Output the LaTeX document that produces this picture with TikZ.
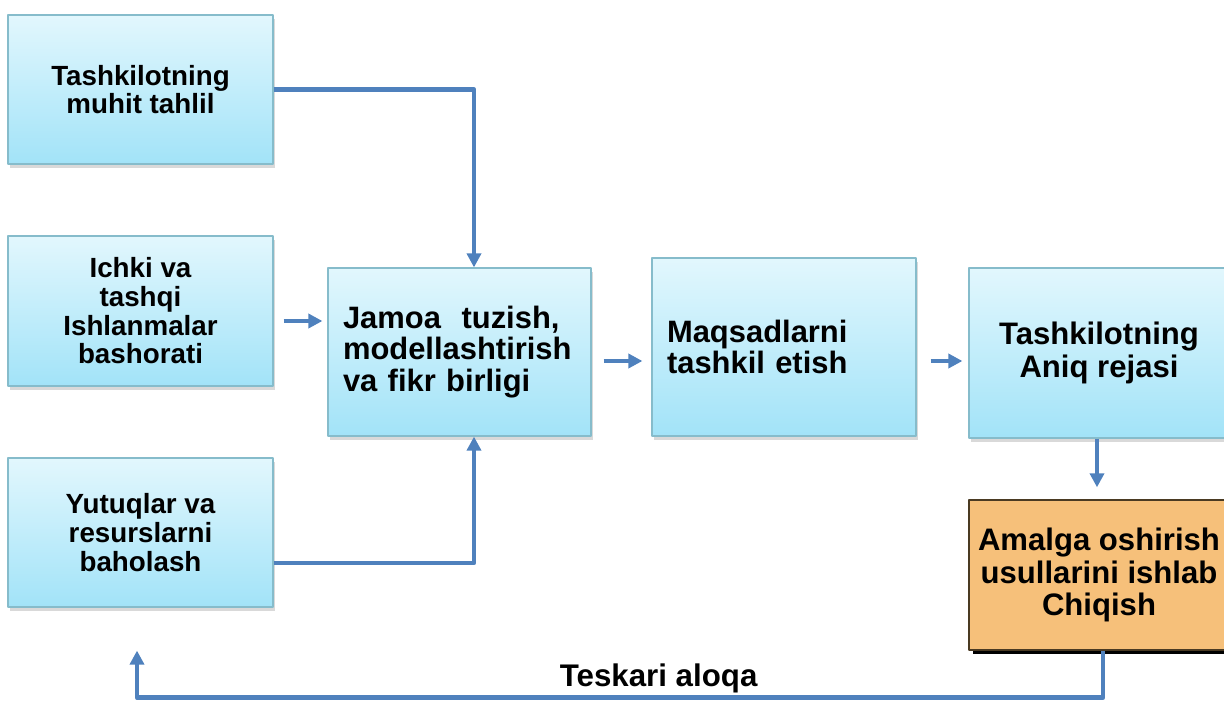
\documentclass[tikz,border=0pt]{standalone}
\usepackage{fontspec}
\setmainfont{Liberation Sans}
\usetikzlibrary{arrows.meta,shadows}

\definecolor{boxtop}{HTML}{E2F7FD}
\definecolor{boxbot}{HTML}{A2E3F8}
\definecolor{boxline}{HTML}{86BCCB}
\definecolor{arrowblue}{HTML}{4F81BD}
\definecolor{orangefill}{HTML}{F6C07A}
\definecolor{orangeline}{HTML}{4A3A22}

\begin{document}
\begin{tikzpicture}[
  x=0.02cm,
  y=-0.02cm,
  line join=round,
  bluebox/.style={
    draw=boxline,
    line width=0.7pt,
    top color=boxtop,
    bottom color=boxbot,
    drop shadow={shadow xshift=1pt,shadow yshift=-2pt,opacity=0.3},
    align=center,
    font=\bfseries\fontsize{15.8}{16.3}\selectfont
  },
  leftbox/.style={
    bluebox,
    align=left,
    inner xsep=0.3cm,
    font=\bfseries\fontsize{17.6}{17.8}\selectfont
  },
  bigbox/.style={
    bluebox,
    font=\bfseries\fontsize{17.7}{18.3}\selectfont
  },
  orangebox/.style={
    draw=orangeline,
    line width=0.8pt,
    fill=orangefill,
    drop shadow={shadow xshift=2.5pt,shadow yshift=-2.5pt,fill=black,opacity=1},
    align=center,
    font=\bfseries\fontsize{17.7}{18.5}\selectfont
  },
  arr/.style={
    draw=arrowblue,
    line width=2.7pt,
    -{Triangle[length=8pt,width=8pt]}
  }
]
  \useasboundingbox (0,0) rectangle (1224,700);

  % Левая колонка
  \node[bluebox,minimum width=5.3cm,minimum height=2.98cm]
    (muhit) at (140.5,89.5) {Tashkilotning\\muhit tahlil};
  \node[bluebox,minimum width=5.3cm,minimum height=3.0cm]
    (bashorat) at (140.5,311) {Ichki va\\tashqi\\Ishlanmalar\\bashorati};
  \node[bluebox,minimum width=5.3cm,minimum height=2.98cm]
    (baholash) at (140.5,532.5) {Yutuqlar va\\resurslarni\\baholash};

  % Средний ряд
  \node[leftbox,minimum width=5.26cm,minimum height=3.36cm,text width=4.66cm]
    (jamoa) at (459.5,352) {Jamoa\ \ tuzish,\\modellashtirish\\va fikr birligi};
  \node[leftbox,minimum width=5.28cm,minimum height=3.56cm,text width=4.68cm]
    (maqsad) at (784,347) {Maqsadlarni\\tashkil etish};

  % Правая колонка
  \node[bigbox,minimum width=5.2cm,minimum height=3.4cm]
    (reja) at (1099,353) {Tashkilotning\\Aniq rejasi};
  \node[orangebox,minimum width=5.2cm,minimum height=3.0cm]
    (amalga) at (1099,575) {Amalga oshirish\\usullarini ishlab\\Chiqish};

  % Входы в среднюю рамку
  \draw[arr] (muhit.east) -| ([xshift=0.29cm]jamoa.north);
  \draw[arr,shorten <=0.2cm,shorten >=0.1cm]
    ([yshift=-0.2cm]bashorat.east) -- ([yshift=-0.2cm]bashorat.east -| jamoa.west);
  \draw[arr] ([yshift=-0.61cm]baholash.east) -| ([xshift=0.29cm]jamoa.south);

  % Основная цепочка
  \draw[arr,shorten <=0.24cm,shorten >=0.18cm]
    ([yshift=-0.18cm]jamoa.east) -- ([yshift=-0.18cm]jamoa.east -| maqsad.west);
  \draw[arr,shorten <=0.28cm,shorten >=0.12cm]
    ([yshift=-0.28cm]maqsad.east) -- ([yshift=-0.28cm]maqsad.east -| reja.west);
  \draw[arr,shorten >=0.24cm]
    ([xshift=-0.04cm]reja.south) -- ([xshift=-0.04cm]reja.south |- amalga.north);

  % Обратная связь
  \draw[arr]
    ([xshift=0.08cm]amalga.south)
    |- ([xshift=-0.07cm,yshift=-1.8cm]baholash.south)
    node[pos=0.73,above,inner sep=1pt,font=\bfseries\fontsize{17.8}{18}\selectfont]
      {Teskari aloqa}
    -- ([xshift=-0.07cm,yshift=-0.86cm]baholash.south);
\end{tikzpicture}
\end{document}
